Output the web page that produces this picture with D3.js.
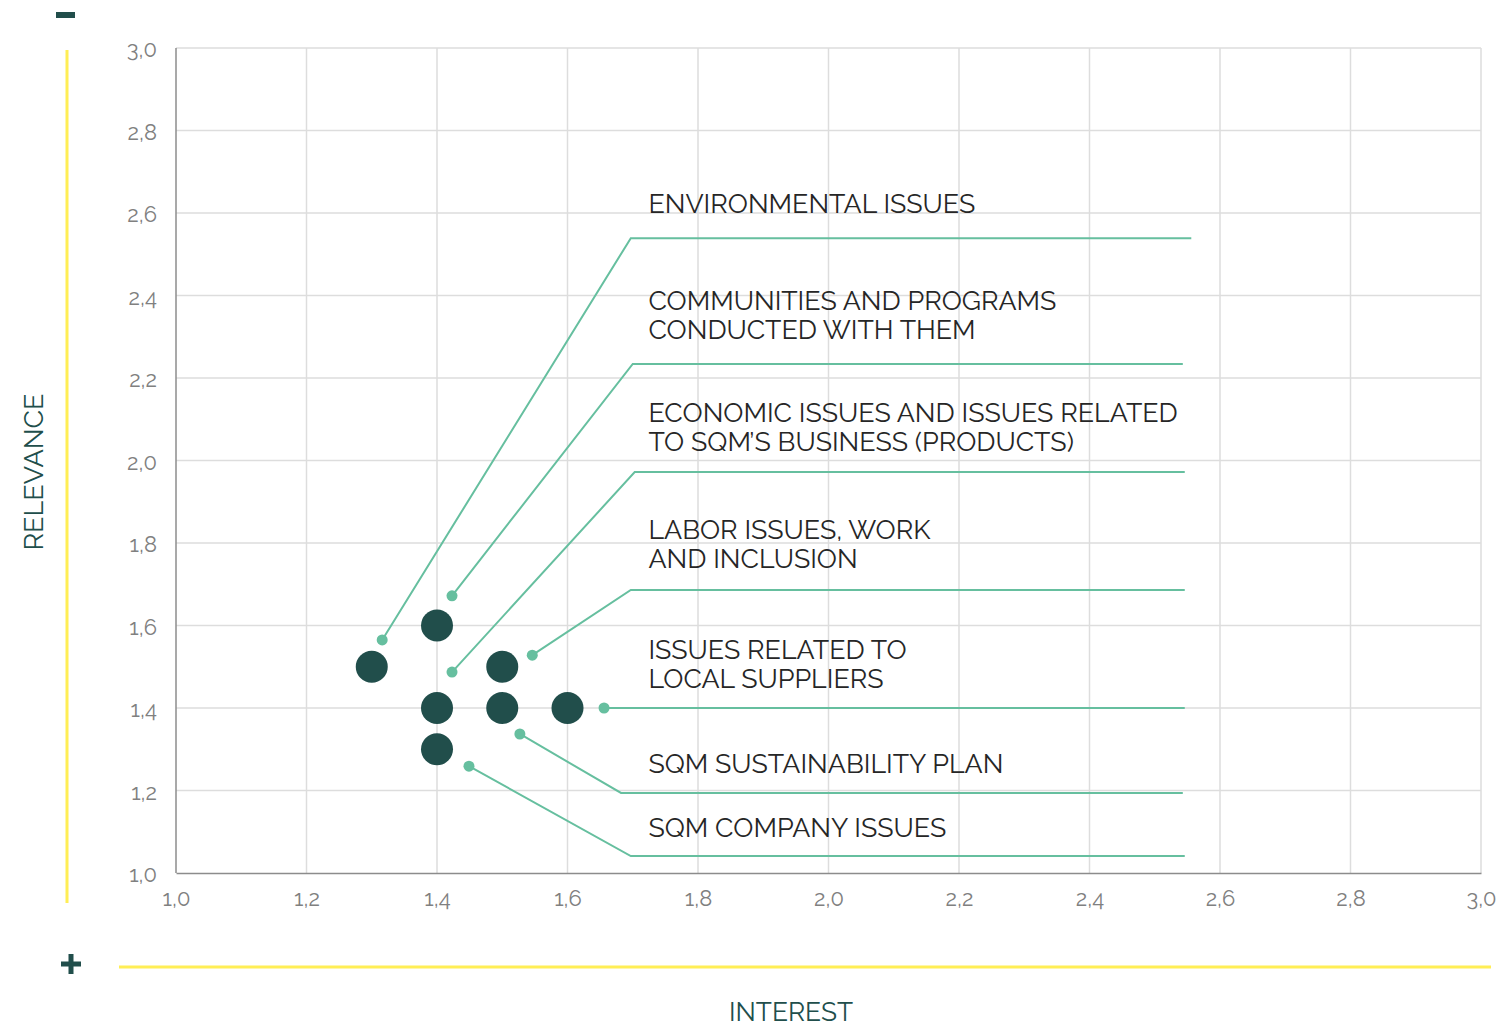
<!DOCTYPE html>
<html>
<head>
<meta charset="utf-8">
<script src="https://cdn.jsdelivr.net/npm/d3@7"></script>
<style>
  html, body { margin: 0; padding: 0; background: #ffffff; }
  svg { display: block; }
  text { font-family: "Raleway", "Lato", "Open Sans", sans-serif; }
</style>
</head>
<body>
<svg id="chart" width="1503" height="1027"></svg>
<script>
// Axis ticks (interest on x, relevance on y)
const xTicks = [1.0, 1.2, 1.4, 1.6, 1.8, 2.0, 2.2, 2.4, 2.6, 2.8, 3.0];
const yTicks = [1.0, 1.2, 1.4, 1.6, 1.8, 2.0, 2.2, 2.4, 2.6, 2.8, 3.0];

// Issue positions: interest (x) and relevance (y)
const issueInterest  = [1.4, 1.3, 1.5, 1.4, 1.5, 1.6, 1.4];
const issueRelevance = [1.6, 1.5, 1.5, 1.4, 1.4, 1.4, 1.3];

// Issue group names and their leader lines (in axis units)
const groupNames = [
  ["ENVIRONMENTAL ISSUES"],
  ["COMMUNITIES AND PROGRAMS", "CONDUCTED WITH THEM"],
  ["ECONOMIC ISSUES AND ISSUES RELATED", "TO SQM\u2019S BUSINESS (PRODUCTS)"],
  ["LABOR ISSUES, WORK", "AND INCLUSION"],
  ["ISSUES RELATED TO", "LOCAL SUPPLIERS"],
  ["SQM SUSTAINABILITY PLAN"],
  ["SQM COMPANY ISSUES"]
];
const anchorX  = [1.316, 1.423, 1.423, 1.546, 1.656, 1.527, 1.449];
const anchorY  = [1.565, 1.672, 1.487, 1.528, 1.400, 1.337, 1.259];
const elbowX   = [1.697, 1.700, 1.703, 1.697, 1.656, 1.682, 1.697];
const elbowY   = [2.539, 2.234, 1.972, 1.686, 1.400, 1.194, 1.041];
const lineEndX = [2.556, 2.543, 2.546, 2.546, 2.546, 2.543, 2.546];
const nameY    = [2.600, 2.365, 2.094, 1.810, 1.520, 1.242, 1.087];
const nameX    = 1.724;

const C = {
  dark: "#214e4b",
  leader: "#66bf9f",
  grid: "#dddddd",
  axis: "#8c8c8c",
  tick: "#808080",
  label: "#262626",
  yellow: "#ffee55"
};

const svg = d3.select("#chart");
const x = d3.scaleLinear().domain([1, 3]).range([176, 1481]);
const y = d3.scaleLinear().domain([1, 3]).range([873, 48]);
const fmt = v => d3.format(".1f")(v).replace(".", ",");

// Grid
const grid = svg.append("g");
grid.selectAll("line.v").data(xTicks.slice(1)).join("line")
  .attr("x1", d => x(d)).attr("x2", d => x(d))
  .attr("y1", y(3)).attr("y2", y(1))
  .attr("stroke", C.grid).attr("stroke-width", 1.5);
grid.selectAll("line.h").data(yTicks.slice(1)).join("line")
  .attr("x1", x(1)).attr("x2", x(3))
  .attr("y1", d => y(d)).attr("y2", d => y(d))
  .attr("stroke", C.grid).attr("stroke-width", 1.5);

// Axes
const xAxis = svg.append("g").attr("transform", `translate(0,${y(1)})`)
  .call(d3.axisBottom(x).tickValues(xTicks).tickFormat(fmt).tickSize(0).tickPadding(17));
const yAxis = svg.append("g").attr("transform", `translate(${x(1)},0)`)
  .call(d3.axisLeft(y).tickValues(yTicks).tickFormat(fmt).tickSize(0).tickPadding(19));
[xAxis, yAxis].forEach(g => {
  g.select(".domain").attr("stroke", C.axis).attr("stroke-width", 1.5);
  g.selectAll("text").attr("fill", C.tick).style("font-size", "22px")
    .style("font-family", "'Raleway', 'Lato', sans-serif");
});
yAxis.select(".domain").attr("d", `M0,${y(3)}V${y(1)}`);
yAxis.selectAll("text").attr("dy", "0.4em");
xAxis.selectAll("text").attr("dy", "0.72em");

// Leader lines with labels
const leaders = svg.append("g");
groupNames.forEach((name, i) => {
  const pts = [[x(anchorX[i]), y(anchorY[i])], [x(elbowX[i]), y(elbowY[i])], [x(lineEndX[i]), y(elbowY[i])]];
  leaders.append("path")
    .attr("d", d3.line()(pts))
    .attr("fill", "none").attr("stroke", C.leader).attr("stroke-width", 2);
  leaders.append("circle")
    .attr("cx", x(anchorX[i])).attr("cy", y(anchorY[i])).attr("r", 5.5)
    .attr("fill", C.leader);
  const t = leaders.append("text")
    .attr("x", x(nameX)).attr("y", y(nameY[i]))
    .attr("fill", C.label).style("font-size", "26.8px");
  name.forEach((line, j) => {
    t.append("tspan").attr("x", x(nameX)).attr("dy", j === 0 ? 0 : 29).text(line);
  });
});

// Issue dots
svg.append("g").selectAll("circle").data(issueInterest).join("circle")
  .attr("cx", d => x(d))
  .attr("cy", (d, i) => y(issueRelevance[i]))
  .attr("r", 16)
  .attr("fill", C.dark);

// Outer yellow guides with - / + markers
svg.append("line").attr("x1", 67).attr("x2", 67).attr("y1", 50).attr("y2", 903)
  .attr("stroke", C.yellow).attr("stroke-width", 3);
svg.append("line").attr("x1", 119).attr("x2", 1491).attr("y1", 967).attr("y2", 967)
  .attr("stroke", C.yellow).attr("stroke-width", 3);
svg.append("rect").attr("x", 56).attr("y", 12).attr("width", 19).attr("height", 6).attr("fill", C.dark);
svg.append("rect").attr("x", 61).attr("y", 961.5).attr("width", 20).attr("height", 5).attr("fill", C.dark);
svg.append("rect").attr("x", 68.5).attr("y", 954).attr("width", 5).attr("height", 20).attr("fill", C.dark);

// Axis titles
svg.append("text").attr("transform", "translate(43,472) rotate(-90)")
  .attr("text-anchor", "middle").attr("fill", C.dark).style("font-size", "27px")
  .text("RELEVANCE");
svg.append("text").attr("x", 791).attr("y", 1021)
  .attr("text-anchor", "middle").attr("fill", C.dark).style("font-size", "26.3px")
  .text("INTEREST");
</script>
</body>
</html>
